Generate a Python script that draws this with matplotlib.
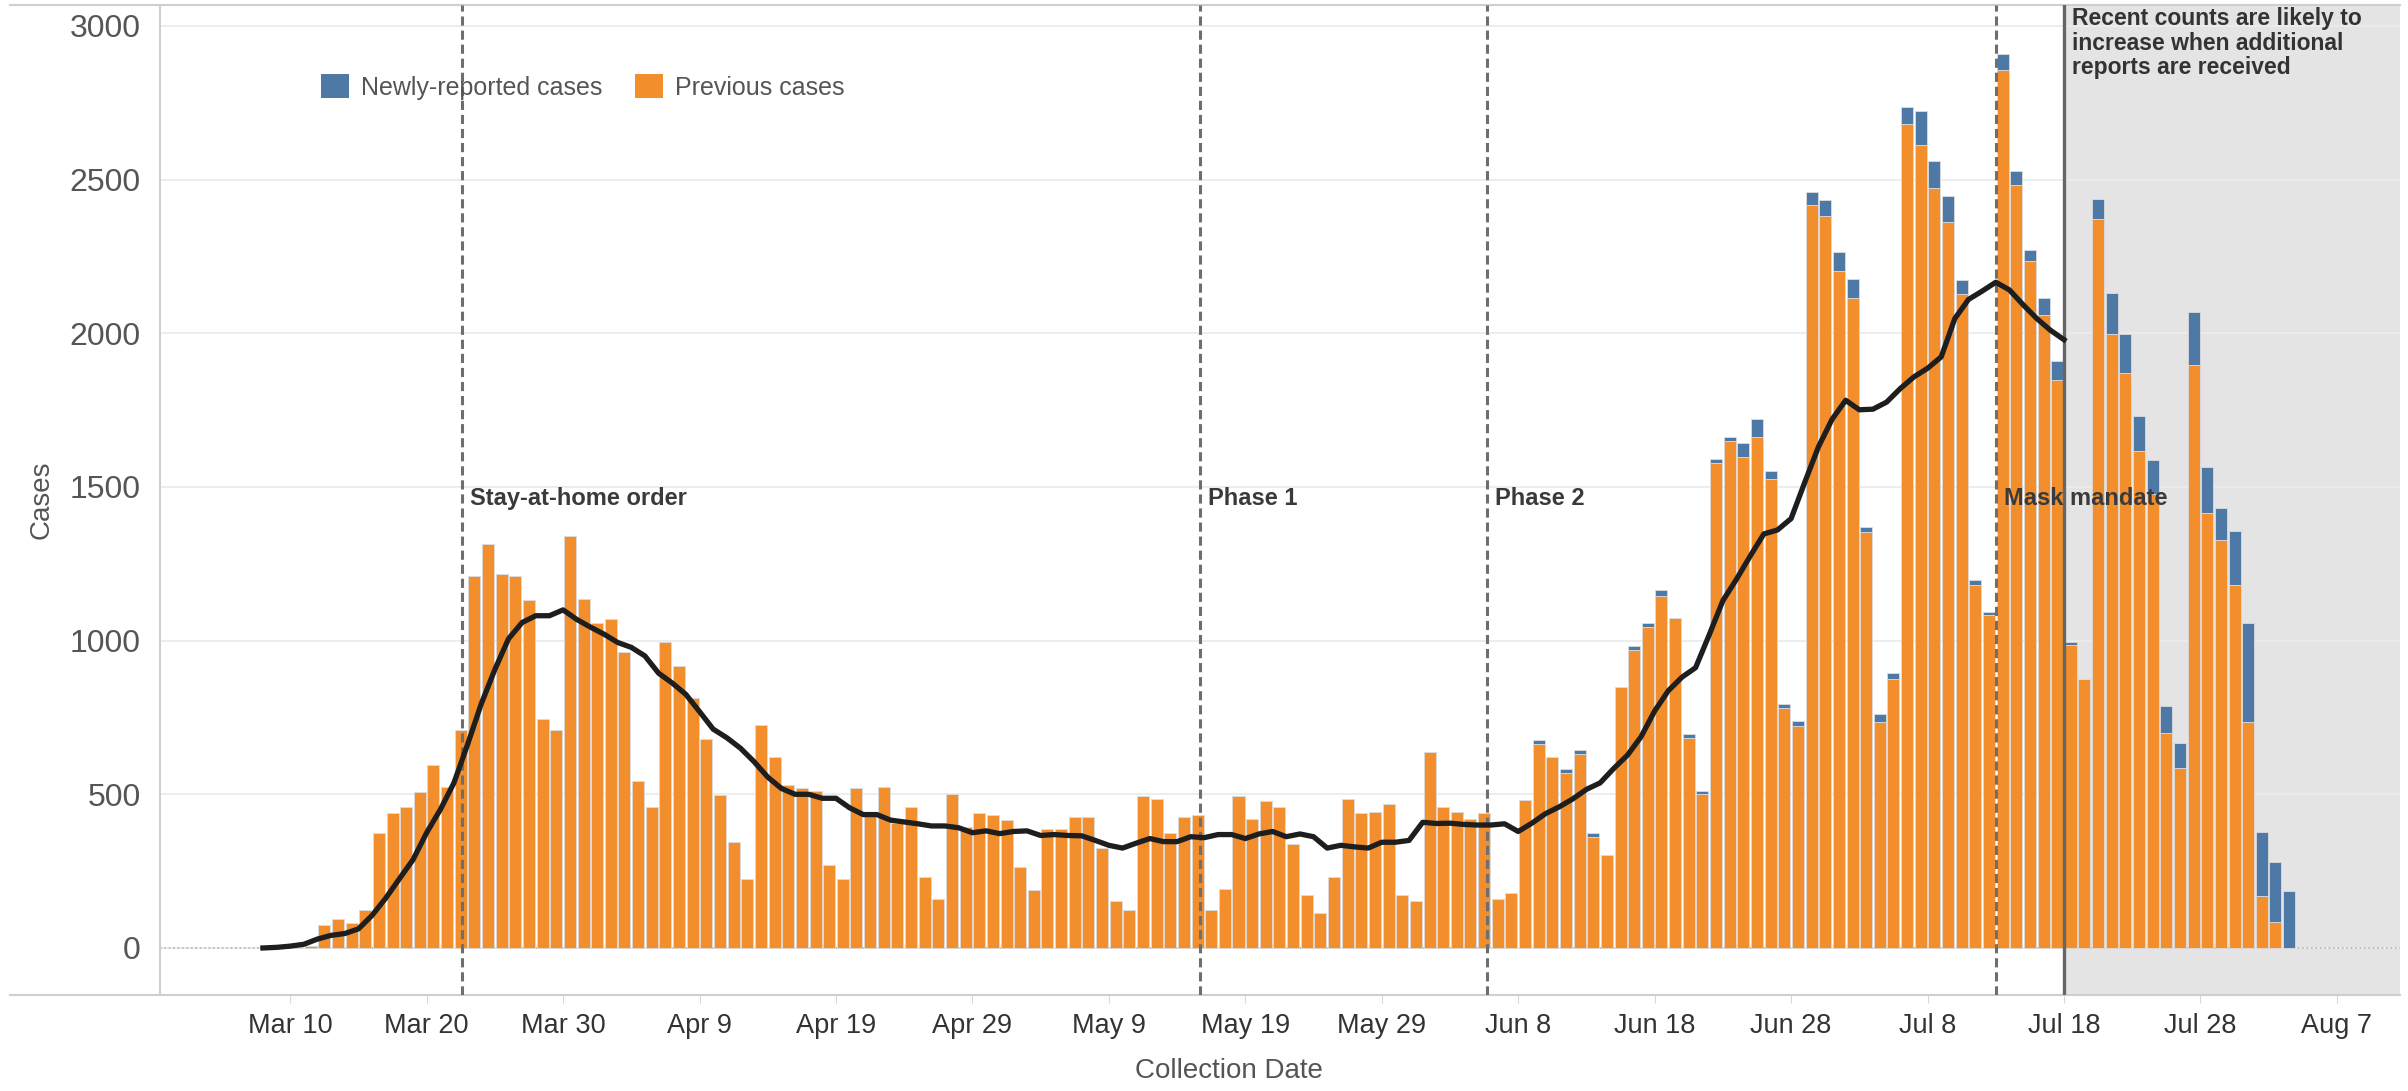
import pandas as pd
import matplotlib
matplotlib.use("Agg")
import matplotlib.pyplot as plt
from matplotlib.patches import Patch
from matplotlib.lines import Line2D

plt.rcParams['font.family'] = ['Liberation Sans', 'DejaVu Sans']

# daily bars from Mar 8 to Aug 3
start_day = "2020-03-08"
previous_cases = [
    # Mar 8 - Mar 31
    1, 2, 4, 8, 75, 94, 81, 125, 375, 440, 459, 506, 596, 524, 709, 1210, 1315, 1216, 1210, 1131,
    746, 709, 1341, 1137,
    # Apr
    1056, 1069, 962, 544, 459, 996, 919, 812, 681, 499, 344, 225, 727, 622, 531, 519, 512, 271, 225, 519,
    431, 525, 406, 459, 231, 159, 500, 394, 440, 434,
    # May
    415, 265, 187, 387, 387, 427, 427, 325, 154, 125, 494, 485, 375, 427, 434, 125, 191, 494, 421, 479,
    459, 337, 172, 115, 231, 485, 440, 444, 469, 172, 154,
    # Jun
    637, 459, 441, 421, 440, 160, 179, 481, 665, 622, 569, 631, 362, 302, 850, 969, 1044, 1146, 1075, 684,
    500, 1579, 1650, 1598, 1662, 1525, 781, 721, 2417, 2382,
    # Jul
    2202, 2115, 1352, 734, 876, 2681, 2614, 2473, 2363, 2127, 1180, 1083, 2857, 2483, 2234, 2058, 1847, 985, 876, 2373,
    1996, 1871, 1618, 1477, 699, 585, 1898, 1415, 1326, 1180, 734,
    # Aug 1 - 3
    170, 83, 0,
]
new_cases = [0] * 93 + [
    # Jun 9 - Jun 30
    13, 0, 12, 13, 13, 0, 0, 12, 12, 19, 0, 12, 12, 13, 13, 46, 60, 27, 13, 19, 43, 53,
    # Jul
    63, 60, 19, 27, 20, 56, 108, 87, 85, 45, 17, 10, 52, 46, 36, 56, 62, 11, 0, 63,
    135, 125, 114, 110, 89, 83, 170, 149, 106, 177, 322,
    # Aug 1 - 3
    208, 197, 185,
]
# 7-day average, Mar 8 - Jul 18
avg_7day = [
    0, 2, 6, 12, 29, 41, 47, 62, 106, 162, 225, 287, 375, 450, 537, 662, 794, 906, 1006, 1059,
    1081, 1081, 1100, 1069,
    1044, 1021, 994, 978, 950, 894, 862, 825, 769, 712, 684, 650, 606, 556, 519, 500, 500, 487, 487, 456,
    434, 434, 416, 410, 404, 397, 397, 391, 375, 381,
    372, 379, 381, 366, 369, 366, 365, 350, 334, 325, 341, 356, 346, 346, 362, 359, 369, 369, 356, 371,
    379, 362, 371, 362, 325, 334, 329, 325, 344, 344, 350,
    409, 405, 406, 402, 400, 400, 404, 379, 406, 437, 459, 485, 516, 537, 584, 627, 687, 771, 837, 881,
    912, 1019, 1130, 1200, 1275, 1347, 1360, 1397, 1515, 1630,
    1720, 1782, 1751, 1753, 1776, 1820, 1858, 1886, 1923, 2048, 2110, 2137, 2166, 2141, 2093, 2048, 2010, 1979,
]

events = ["Stay-at-home order", "Phase 1", "Phase 2", "Mask mandate"]
event_dates = ["2020-03-22 15:00", "2020-05-15 17:00", "2020-06-05 17:00", "2020-07-13 00:00"]
recent_cutoff = "2020-07-18"
recent_note = "Recent counts are likely to\nincrease when additional\nreports are received"
tick_labels = ["Mar 10", "Mar 20", "Mar 30", "Apr 9", "Apr 19", "Apr 29", "May 9", "May 19",
               "May 29", "Jun 8", "Jun 18", "Jun 28", "Jul 8", "Jul 18", "Jul 28", "Aug 7"]

orange = "#f28e2b"
blue = "#4e79a7"
txt = "#555555"

days = pd.date_range(start_day, periods=len(previous_cases), freq="D")
bar_x = days + pd.Timedelta(hours=12)
avg_days = pd.date_range(start_day, periods=len(avg_7day), freq="D")

fig = plt.figure(figsize=(24.08, 10.91), dpi=100)
ax = fig.add_axes([160 / 2408, 1 - 995 / 1091, 2240 / 2408, 990 / 1091])

ax.axvspan(pd.Timestamp(recent_cutoff), pd.Timestamp("2020-08-20"), color="#e4e4e4", zorder=0)
ax.set_axisbelow(True)
ax.grid(axis="y", color="#ececec", linewidth=1.3)
ax.axhline(0, color="#b5b5b5", linestyle=":", linewidth=1.2, zorder=1)

ax.bar(bar_x, previous_cases, width=0.88, color=orange, edgecolor="#dcdcdc", linewidth=0.6, zorder=2)
ax.bar(bar_x, new_cases, bottom=previous_cases, width=0.88, color=blue, edgecolor="#dcdcdc",
       linewidth=0.6, zorder=2)

for name, d in zip(events, event_dates):
    d = pd.Timestamp(d)
    ax.axvline(d, color="#6e6e6e", linestyle=(0, (3, 1.6)), linewidth=2.2, zorder=3)
    ax.text(d + pd.Timedelta(hours=14), 1500, name, fontsize=17, fontweight="bold",
            color="#3a3a3a", va="top", ha="left", zorder=5)

ax.axvline(pd.Timestamp(recent_cutoff), color="#666666", linewidth=2.4, zorder=3)
ax.text(pd.Timestamp(recent_cutoff) + pd.Timedelta(hours=14), 3062, recent_note, fontsize=16.5,
        fontweight="bold", color="#333333", va="top", ha="left", linespacing=1.1, zorder=5)

ax.plot(avg_days, avg_7day, color="#1e1e1e", linewidth=3.8, zorder=4, solid_joinstyle="round")

ax.set_ylim(-153, 3068)
ax.set_xlim(pd.Timestamp("2020-02-29 11:00"), pd.Timestamp("2020-08-11 15:00"))
ax.set_yticks([0, 500, 1000, 1500, 2000, 2500, 3000])
ax.set_xticks(pd.date_range("2020-03-10", periods=len(tick_labels), freq="10D"))
ax.set_xticklabels(tick_labels)
ax.tick_params(axis="y", length=0, labelsize=23, labelcolor=txt, pad=14)
ax.tick_params(axis="x", length=6, color="#d8d8d8", labelsize=19.5, labelcolor="#333333", pad=7)

for s in ["top", "bottom", "left"]:
    ax.spines[s].set_color("#cfcfcf")
    ax.spines[s].set_linewidth(1.5)
ax.spines["right"].set_visible(False)

ax.set_ylabel("Cases", fontsize=20, color=txt)
ax.yaxis.set_label_coords(-0.047, 0.5)
ax.set_xlabel("Collection Date", fontsize=20, color=txt)
ax.xaxis.set_label_coords(0.477, -0.064)

# frame lines that run to the left edge, as in the original layout
fig.add_artist(Line2D([10 / 2408, 160 / 2408], [1 - 995 / 1091] * 2, color="#cfcfcf", linewidth=1.5))
fig.add_artist(Line2D([10 / 2408, 160 / 2408], [1 - 5 / 1091] * 2, color="#cfcfcf", linewidth=1.5))

handles = [Patch(facecolor=blue, label="Newly-reported cases"),
           Patch(facecolor=orange, label="Previous cases")]
ax.legend(handles=handles, loc="center left", bbox_to_anchor=(0.062, 0.917), ncol=2, frameon=False,
          fontsize=18, handlelength=1.1, handleheight=1.1, handletextpad=0.5, columnspacing=1.3,
          labelcolor=txt)

fig.savefig("out.png", dpi=100)
